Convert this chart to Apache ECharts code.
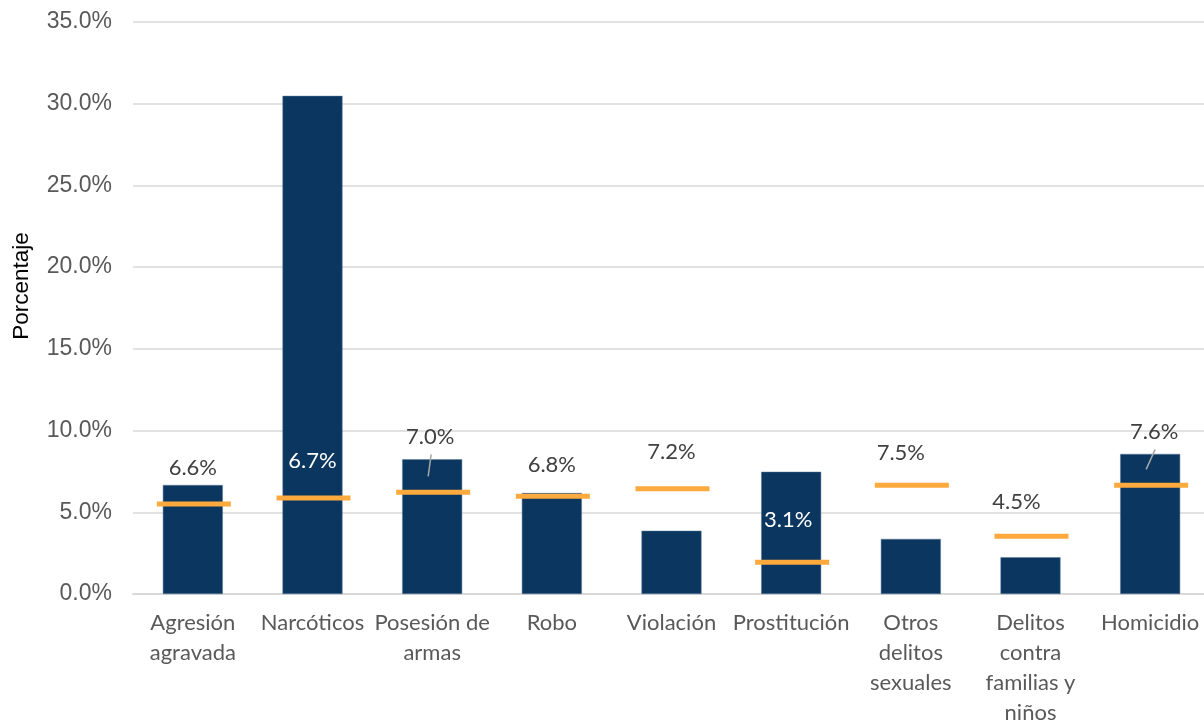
<!DOCTYPE html>
<html>
<head>
<meta charset="utf-8">
<script src="https://cdn.jsdelivr.net/npm/echarts@6/dist/echarts.min.js"></script>
<style>
html,body{margin:0;padding:0;background:#fff;overflow:hidden;}
#chart{width:1204px;height:720px;}
</style>
</head>
<body>
<div id="chart"></div>
<script>
const categories = ['Agresión\nagravada','Narcóticos','Posesión de\narmas','Robo','Violación','Prostitución','Otros\ndelitos\nsexuales','Delitos\ncontra\nfamilias y\nniños','Homicidio'];
const barValues = [6.67, 30.48, 8.24, 6.18, 3.87, 7.48, 3.37, 2.25, 8.57];
const markerValues = [5.51, 5.88, 6.22, 5.98, 6.44, 1.94, 6.65, 3.53, 6.65];
const labelTexts = ['6.6%','6.7%','7.0%','6.8%','7.2%','3.1%','7.5%','4.5%','7.6%'];
const yTicks = {min:0, max:35, interval:5};

// styling (label placement relative to marker, in px)
const labelStyle = {
  dy: [-36, -37, -55, -31, -37, -42, -32, -34, -53],
  dx: [0, 0, -2, 0, 0, -3, -10, -14, 4],
  white: [false, true, false, false, false, true, false, false, false],
  leader: [false, false, true, false, false, false, false, false, true]
};

const chart = echarts.init(document.getElementById('chart'));
const navy = '#0a365f';
const orange = '#fca93e';

chart.setOption({
  animation: false,
  backgroundColor: '#fff',
  grid: {left: 133, top: 22, width: 1077, bottom: 126, containLabel: false, outerBoundsMode: 'none'},
  xAxis: {
    type: 'category',
    data: categories,
    axisLine: {show: true, lineStyle: {color: '#d9d9d9', width: 2}},
    axisTick: {show: false},
    axisLabel: {interval: 0, color: '#595959', fontFamily: 'Lato', fontSize: 22, lineHeight: 30, margin: 14}
  },
  yAxis: {
    type: 'value',
    min: yTicks.min, max: yTicks.max, interval: yTicks.interval,
    axisLine: {show: false},
    axisTick: {show: false},
    splitLine: {lineStyle: {color: '#d9d9d9', width: 1.5}},
    axisLabel: {color: '#595959', fontFamily: 'Liberation Sans', fontSize: 23, margin: 21,
      formatter: v => v.toFixed(1) + '%'}
  },
  graphic: [{
    type: 'text', x: 22, y: 286, rotation: Math.PI/2,
    style: {text: 'Porcentaje', fill: '#000', font: '22.5px "Liberation Sans", sans-serif',
      align: 'center', verticalAlign: 'middle'}
  }],
  series: [
    {
      type: 'bar',
      data: barValues,
      barWidth: 60,
      itemStyle: {color: navy, borderColor: '#5a7a9a', borderWidth: 0.5}
    },
    {
      type: 'custom',
      data: markerValues.map((v, i) => [i, v]),
      z: 5,
      renderItem: function (params, api) {
        const i = params.dataIndex;
        const p = api.coord([api.value(0), api.value(1)]);
        const children = [{
          type: 'rect',
          shape: {x: p[0] - 36, y: p[1] - 2.5, width: 74, height: 5},
          style: {fill: orange}
        }, {
          type: 'text',
          x: p[0] + labelStyle.dx[i], y: p[1] + labelStyle.dy[i],
          style: {text: labelTexts[i], fill: labelStyle.white[i] ? '#ffffff' : '#404040',
            font: '22px Lato, sans-serif', align: 'center', verticalAlign: 'middle'}
        }];
        if (labelStyle.leader[i]) {
          children.push({
            type: 'line',
            shape: {x1: p[0] + labelStyle.dx[i] + 1, y1: p[1] + labelStyle.dy[i] + 17, x2: p[0] - 4, y2: p[1] - 16},
            style: {stroke: '#a6a6a6', lineWidth: 1.5}
          });
        }
        return {type: 'group', children: children};
      }
    }
  ]
});
</script>
</body>
</html>
